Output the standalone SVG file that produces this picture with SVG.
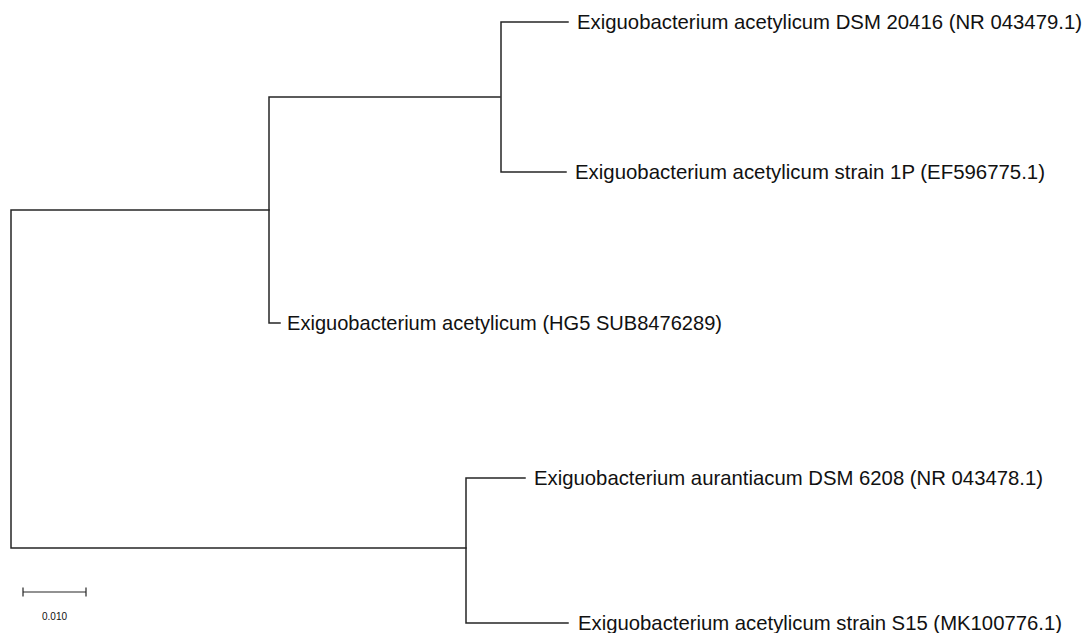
<svg xmlns="http://www.w3.org/2000/svg" width="1084" height="633" viewBox="0 0 1084 633">
<style>
.br{fill:none;stroke:#262626;stroke-width:1.5;stroke-linecap:square}
.lb{font-family:"Liberation Sans",Arial,sans-serif;font-size:20.3px;fill:#111}
.sc{font-family:"Liberation Sans",Arial,sans-serif;font-size:10px;fill:#111}
</style>
<rect width="1084" height="633" fill="#fff"/>
<g id="connectors">
<path class="br" d="M269,210 H11 V548 H466"/>
<path class="br" d="M500,97 H269 V323 H280"/>
<path class="br" d="M568,22 H501 V172 H566"/>
<path class="br" d="M525,478 H466 V623 H568"/>
</g>
<g id="n1"><text class="lb" x="577" y="29" textLength="505" lengthAdjust="spacingAndGlyphs">Exiguobacterium acetylicum DSM 20416 (NR 043479.1)</text></g>
<g id="n2"><text class="lb" x="575" y="179" textLength="470" lengthAdjust="spacingAndGlyphs">Exiguobacterium acetylicum strain 1P (EF596775.1)</text></g>
<g id="n3"><text class="lb" x="287" y="330" textLength="435" lengthAdjust="spacingAndGlyphs">Exiguobacterium acetylicum (HG5 SUB8476289)</text></g>
<g id="n4"><text class="lb" x="534" y="485" textLength="509" lengthAdjust="spacingAndGlyphs">Exiguobacterium aurantiacum DSM 6208 (NR 043478.1)</text></g>
<g id="n5"><text class="lb" x="578" y="630" textLength="484" lengthAdjust="spacingAndGlyphs">Exiguobacterium acetylicum strain S15 (MK100776.1)</text></g>
<g id="scale">
<path class="br" d="M23,592 H86 M23,588 V596 M86,588 V596" style="stroke-width:1.2"/>
<text class="sc" x="54.5" y="620" text-anchor="middle">0.010</text>
</g>
</svg>
